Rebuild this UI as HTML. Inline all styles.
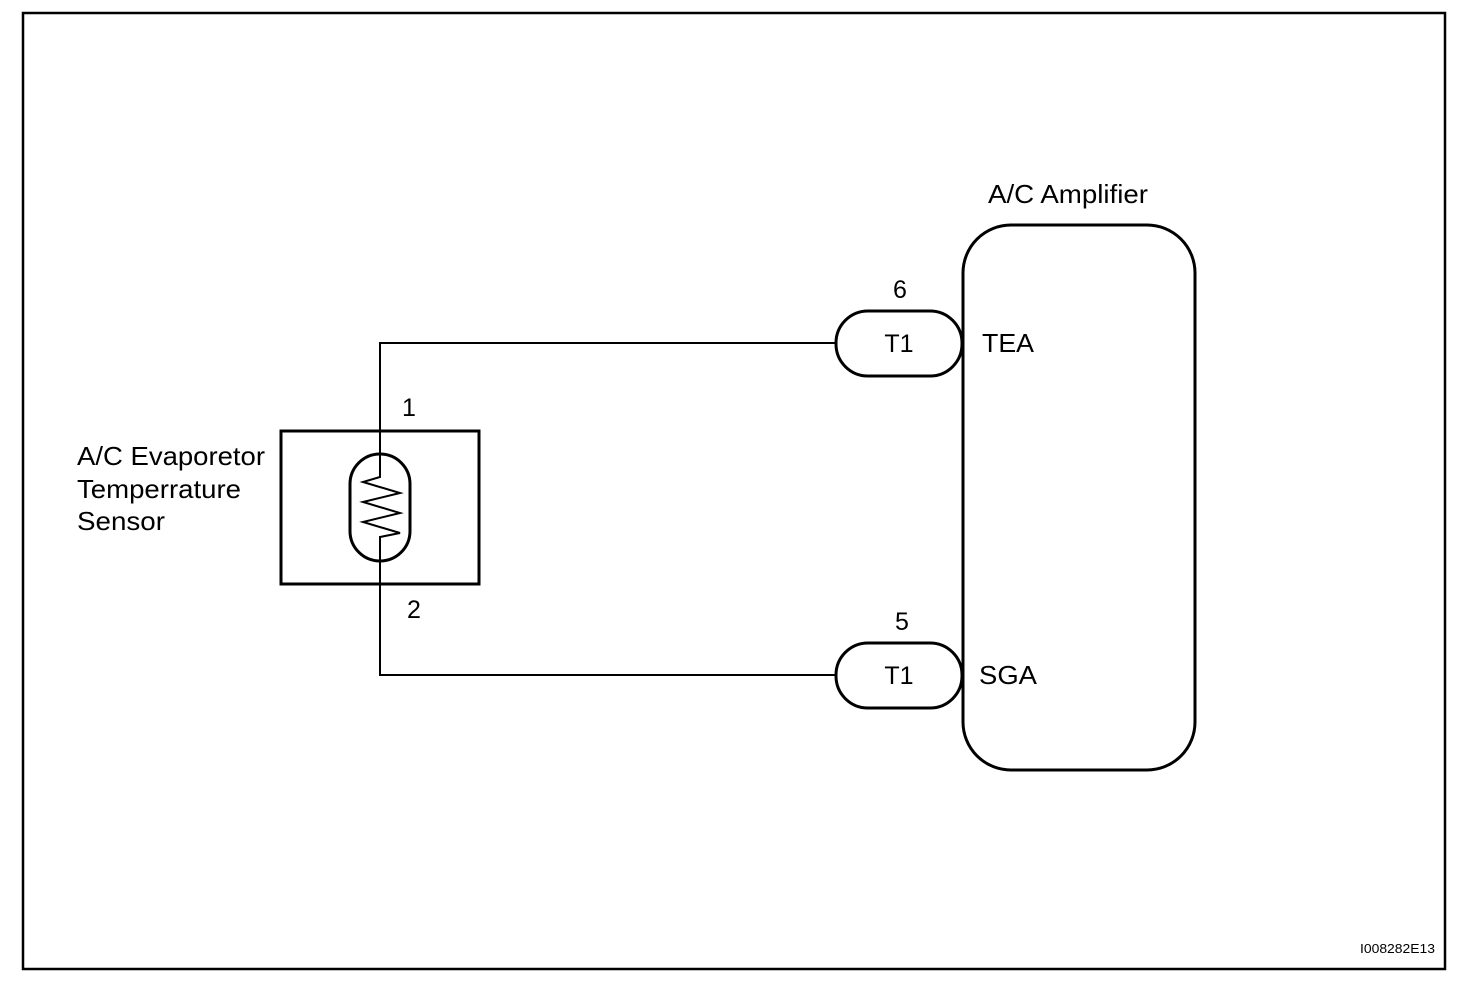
<!DOCTYPE html>
<html><head><meta charset="utf-8"><style>
html,body{margin:0;padding:0;background:#fff;}
svg{display:block;}
text{font-family:"Liberation Sans",Arial,sans-serif;fill:#000;}
</style></head><body>
<svg width="1472" height="1004" viewBox="0 0 1472 1004" xmlns="http://www.w3.org/2000/svg">
<rect x="0" y="0" width="1472" height="1004" fill="#fff"/>
<rect x="23" y="13" width="1422" height="956" fill="none" stroke="#000" stroke-width="2.5"/>
<polyline points="836,343 380,343 380,477 363,482 400,493 363,502 400,513 363,522 400,533 380,537 380,675 836,675" fill="none" stroke="#000" stroke-width="2"/>
<rect x="281" y="431" width="198" height="153" fill="none" stroke="#000" stroke-width="3"/>
<rect x="350" y="454" width="60" height="107" rx="30" ry="30" fill="none" stroke="#000" stroke-width="3"/>
<rect x="963" y="225" width="232" height="545" rx="48" ry="48" fill="none" stroke="#000" stroke-width="3"/>
<rect x="836" y="311" width="126" height="65" rx="32" ry="32" fill="none" stroke="#000" stroke-width="3"/>
<rect x="836" y="643" width="126" height="65" rx="32" ry="32" fill="none" stroke="#000" stroke-width="3"/>
<text x="988" y="203" font-size="26" textLength="160" lengthAdjust="spacingAndGlyphs">A/C Amplifier</text>
<text x="900" y="298" font-size="25" text-anchor="middle">6</text>
<text x="899" y="352" font-size="25" text-anchor="middle">T1</text>
<text x="982" y="352" font-size="26" textLength="52" lengthAdjust="spacingAndGlyphs">TEA</text>
<text x="902" y="630" font-size="25" text-anchor="middle">5</text>
<text x="899" y="684" font-size="25" text-anchor="middle">T1</text>
<text x="979" y="684" font-size="26" textLength="58" lengthAdjust="spacingAndGlyphs">SGA</text>
<text x="409" y="416" font-size="25" text-anchor="middle">1</text>
<text x="414" y="618" font-size="25" text-anchor="middle">2</text>
<text x="77" y="465" font-size="26" textLength="188" lengthAdjust="spacingAndGlyphs">A/C Evaporetor</text>
<text x="77" y="498" font-size="26" textLength="164" lengthAdjust="spacingAndGlyphs">Temperrature</text>
<text x="77" y="530" font-size="26" textLength="88" lengthAdjust="spacingAndGlyphs">Sensor</text>
<text x="1360" y="953" font-size="13" textLength="75" lengthAdjust="spacingAndGlyphs">I008282E13</text>
</svg>
</body></html>
